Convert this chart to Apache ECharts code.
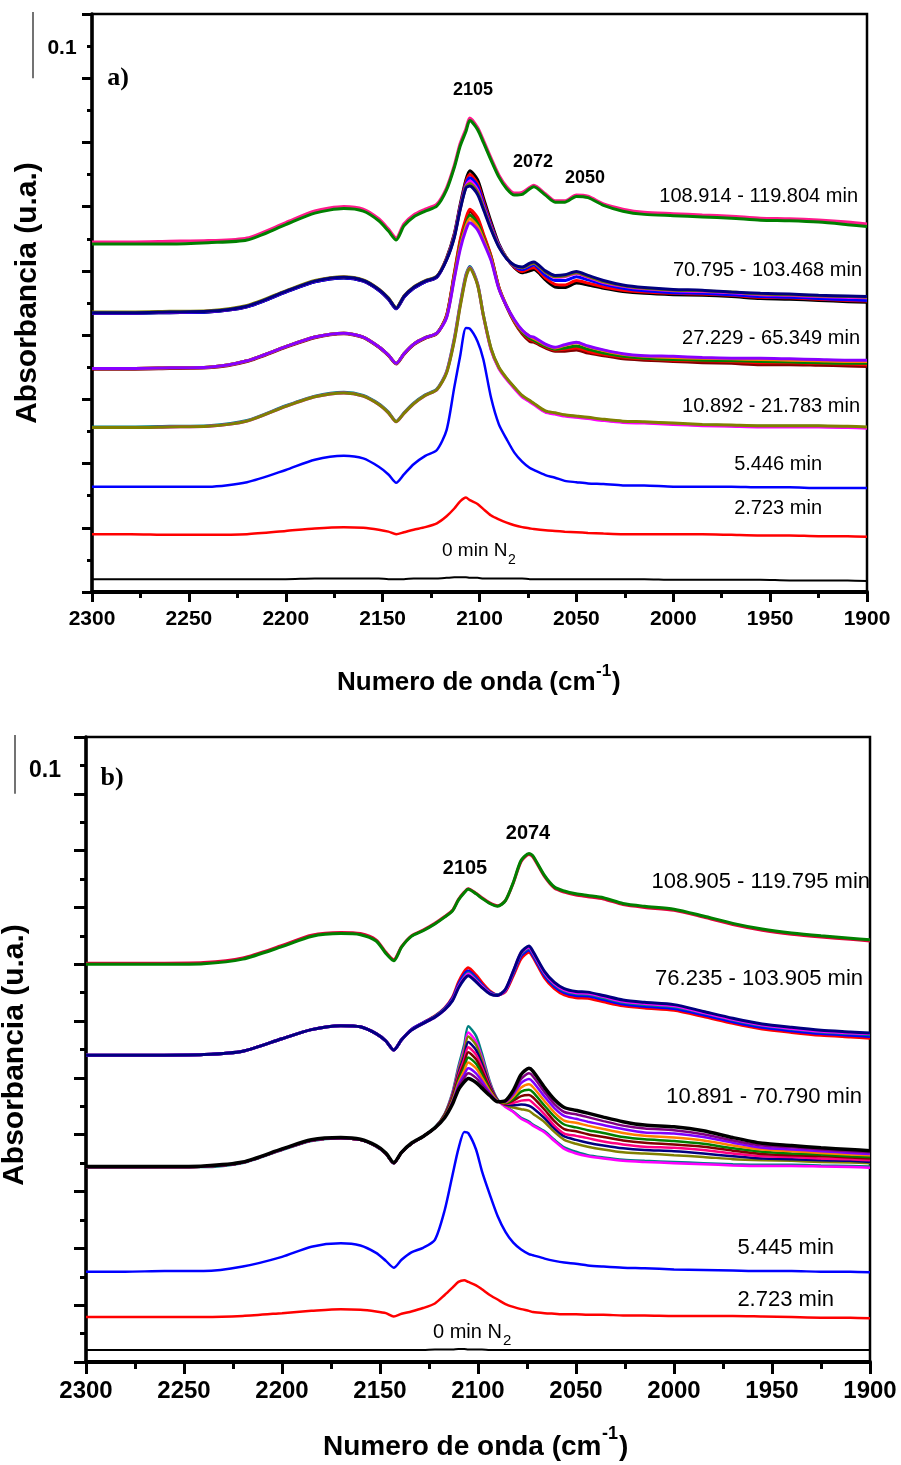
<!DOCTYPE html>
<html>
<head>
<meta charset="utf-8">
<script src="https://cdn.jsdelivr.net/npm/echarts/dist/echarts.min.js"></script>
<style>
  html, body { margin: 0; padding: 0; background: #ffffff; }
  #chart { width: 901px; height: 1465px; }
</style>
</head>
<body>
<div id="chart"></div>
<script>
// Wavenumber grid (cm-1), shared by every spectrum
const wavenumber = [2300,2280,2260,2240,2220,2200,2185,2170,2160,2152,2147,2143,2139,2134,2128,2122,2117,2113,2110,2107,2105,2101,2098,2094,2090,2086,2082,2078,2074,2072,2066,2061,2056,2050,2044,2036,2026,2015,2000,1985,1970,1955,1940,1925,1910,1900];

const xTicks = { min: 1900, max: 2300, step: 50 };

// ---------- panel a) : absorbance (offset stacked) ----------
const a_0min = [0.020,0.020,0.020,0.020,0.020,0.020,0.021,0.021,0.021,0.021,0.020,0.020,0.020,0.021,0.021,0.021,0.022,0.023,0.023,0.023,0.022,0.022,0.021,0.021,0.021,0.021,0.021,0.021,0.020,0.020,0.020,0.020,0.020,0.020,0.020,0.020,0.020,0.020,0.019,0.019,0.019,0.019,0.018,0.018,0.018,0.017];
const a_2723 = [0.090,0.090,0.089,0.089,0.090,0.095,0.099,0.101,0.100,0.097,0.094,0.090,0.093,0.097,0.101,0.107,0.118,0.130,0.141,0.147,0.143,0.137,0.129,0.119,0.113,0.108,0.104,0.101,0.099,0.098,0.096,0.095,0.094,0.093,0.092,0.091,0.090,0.090,0.090,0.090,0.089,0.088,0.088,0.087,0.087,0.086];
const a_5446 = [0.164,0.164,0.164,0.164,0.171,0.190,0.206,0.212,0.208,0.195,0.183,0.170,0.183,0.199,0.212,0.221,0.252,0.319,0.367,0.411,0.410,0.390,0.362,0.302,0.261,0.238,0.217,0.203,0.193,0.190,0.182,0.178,0.173,0.171,0.169,0.168,0.166,0.166,0.164,0.164,0.164,0.163,0.163,0.162,0.162,0.162];

// 10.892 - 21.783 min
const a_g4_teal    = [0.257,0.257,0.258,0.259,0.267,0.290,0.305,0.311,0.306,0.293,0.280,0.266,0.279,0.294,0.307,0.316,0.343,0.395,0.448,0.494,0.507,0.480,0.431,0.378,0.349,0.332,0.318,0.305,0.297,0.293,0.281,0.278,0.275,0.273,0.271,0.268,0.265,0.264,0.262,0.260,0.259,0.258,0.258,0.258,0.257,0.256];
const a_g4_magenta = [0.256,0.256,0.257,0.258,0.266,0.289,0.304,0.310,0.305,0.292,0.279,0.265,0.278,0.293,0.306,0.315,0.342,0.393,0.446,0.492,0.505,0.479,0.430,0.377,0.348,0.331,0.317,0.304,0.296,0.292,0.280,0.277,0.274,0.272,0.270,0.267,0.264,0.263,0.261,0.259,0.258,0.257,0.257,0.257,0.256,0.255];
const a_g4_olive   = [0.256,0.256,0.257,0.258,0.266,0.289,0.304,0.310,0.305,0.292,0.279,0.265,0.278,0.293,0.306,0.315,0.341,0.391,0.444,0.490,0.504,0.478,0.431,0.379,0.350,0.333,0.319,0.306,0.298,0.294,0.282,0.279,0.276,0.274,0.272,0.269,0.266,0.265,0.263,0.261,0.260,0.259,0.259,0.259,0.258,0.257];

// 27.229 - 65.349 min
const a_g3_darkred = [0.347,0.347,0.348,0.349,0.359,0.381,0.396,0.402,0.396,0.381,0.368,0.355,0.370,0.385,0.395,0.402,0.430,0.495,0.545,0.578,0.593,0.580,0.556,0.522,0.474,0.444,0.420,0.402,0.390,0.389,0.380,0.375,0.375,0.377,0.372,0.368,0.363,0.361,0.359,0.357,0.356,0.354,0.354,0.353,0.352,0.351];
const a_g3_red     = [0.348,0.348,0.349,0.350,0.360,0.382,0.397,0.403,0.397,0.382,0.369,0.356,0.371,0.386,0.396,0.403,0.431,0.497,0.548,0.582,0.596,0.583,0.558,0.523,0.475,0.445,0.421,0.404,0.393,0.391,0.382,0.377,0.378,0.380,0.375,0.370,0.366,0.363,0.361,0.360,0.359,0.357,0.357,0.356,0.355,0.354];
const a_g3_green   = [0.348,0.348,0.349,0.350,0.360,0.382,0.397,0.403,0.397,0.382,0.369,0.356,0.371,0.386,0.396,0.403,0.429,0.493,0.541,0.573,0.587,0.574,0.552,0.520,0.474,0.445,0.422,0.405,0.395,0.392,0.383,0.378,0.380,0.383,0.378,0.372,0.367,0.364,0.362,0.361,0.360,0.359,0.358,0.357,0.356,0.356];
const a_g3_orange  = [0.348,0.348,0.349,0.350,0.360,0.382,0.397,0.403,0.397,0.382,0.369,0.356,0.371,0.386,0.396,0.403,0.428,0.490,0.537,0.569,0.581,0.569,0.549,0.518,0.473,0.445,0.423,0.407,0.398,0.395,0.385,0.380,0.384,0.388,0.382,0.376,0.370,0.367,0.365,0.364,0.363,0.362,0.361,0.360,0.359,0.359];
const a_g3_violet  = [0.348,0.348,0.349,0.350,0.360,0.382,0.397,0.403,0.397,0.382,0.369,0.356,0.371,0.386,0.396,0.403,0.427,0.488,0.533,0.564,0.575,0.564,0.545,0.516,0.472,0.445,0.424,0.408,0.398,0.397,0.386,0.381,0.385,0.389,0.383,0.377,0.371,0.368,0.367,0.365,0.364,0.364,0.363,0.362,0.361,0.361];

// 70.795 - 103.468 min
const a_g2_black   = [0.434,0.434,0.435,0.436,0.444,0.467,0.483,0.489,0.484,0.470,0.456,0.441,0.459,0.473,0.483,0.490,0.520,0.558,0.603,0.642,0.656,0.642,0.614,0.576,0.542,0.520,0.505,0.497,0.500,0.502,0.486,0.475,0.474,0.481,0.478,0.473,0.468,0.465,0.463,0.462,0.460,0.457,0.456,0.454,0.452,0.451];
const a_g2_red     = [0.435,0.435,0.436,0.437,0.445,0.468,0.484,0.490,0.485,0.471,0.457,0.442,0.460,0.474,0.484,0.491,0.519,0.556,0.600,0.638,0.650,0.636,0.609,0.572,0.540,0.520,0.506,0.499,0.504,0.505,0.489,0.479,0.478,0.485,0.481,0.475,0.470,0.467,0.465,0.464,0.462,0.459,0.458,0.456,0.454,0.453];
const a_g2_blue    = [0.434,0.434,0.435,0.436,0.444,0.467,0.483,0.489,0.484,0.470,0.456,0.441,0.459,0.473,0.483,0.490,0.518,0.555,0.599,0.635,0.645,0.632,0.605,0.570,0.540,0.520,0.507,0.502,0.507,0.509,0.493,0.485,0.485,0.491,0.486,0.479,0.473,0.469,0.466,0.465,0.463,0.460,0.459,0.457,0.455,0.454];
const a_g2_magenta = [0.435,0.435,0.436,0.437,0.445,0.468,0.484,0.490,0.485,0.471,0.457,0.442,0.460,0.474,0.484,0.491,0.518,0.554,0.597,0.632,0.640,0.626,0.601,0.567,0.539,0.520,0.508,0.505,0.510,0.512,0.498,0.490,0.491,0.496,0.490,0.482,0.476,0.472,0.469,0.468,0.466,0.463,0.462,0.460,0.459,0.458];
const a_g2_olive   = [0.436,0.436,0.437,0.438,0.446,0.469,0.485,0.491,0.486,0.472,0.458,0.443,0.461,0.475,0.485,0.492,0.518,0.553,0.596,0.631,0.636,0.623,0.599,0.566,0.538,0.520,0.508,0.505,0.510,0.512,0.498,0.491,0.492,0.497,0.491,0.483,0.477,0.473,0.470,0.469,0.467,0.464,0.463,0.461,0.460,0.459];
const a_g2_navy    = [0.435,0.435,0.436,0.437,0.445,0.468,0.484,0.490,0.485,0.471,0.457,0.442,0.460,0.474,0.484,0.491,0.517,0.552,0.595,0.629,0.632,0.619,0.596,0.564,0.537,0.519,0.509,0.506,0.512,0.514,0.500,0.493,0.494,0.499,0.493,0.485,0.478,0.474,0.471,0.470,0.467,0.465,0.464,0.462,0.461,0.460];

// 108.914 - 119.804 min
const a_g1_pink  = [0.545,0.545,0.546,0.547,0.551,0.575,0.593,0.600,0.596,0.581,0.565,0.551,0.573,0.587,0.596,0.604,0.629,0.664,0.698,0.721,0.738,0.723,0.703,0.675,0.649,0.631,0.621,0.622,0.630,0.633,0.620,0.609,0.609,0.618,0.616,0.604,0.596,0.591,0.589,0.587,0.585,0.582,0.581,0.579,0.576,0.573];
const a_g1_green = [0.542,0.542,0.542,0.544,0.548,0.572,0.590,0.597,0.593,0.578,0.562,0.548,0.570,0.584,0.593,0.601,0.626,0.661,0.694,0.717,0.734,0.720,0.700,0.672,0.646,0.628,0.618,0.619,0.628,0.631,0.618,0.607,0.607,0.616,0.614,0.602,0.593,0.588,0.586,0.584,0.582,0.579,0.578,0.576,0.572,0.569];

// ---------- panel b) ----------
const b_0min = [0.021,0.021,0.021,0.021,0.021,0.021,0.021,0.021,0.021,0.021,0.021,0.021,0.021,0.021,0.021,0.022,0.022,0.022,0.023,0.023,0.022,0.022,0.022,0.021,0.021,0.021,0.021,0.021,0.021,0.021,0.021,0.021,0.021,0.021,0.021,0.021,0.021,0.021,0.021,0.021,0.021,0.021,0.021,0.021,0.021,0.021];
const b_2723 = [0.079,0.079,0.079,0.079,0.081,0.086,0.090,0.093,0.092,0.089,0.086,0.080,0.085,0.089,0.095,0.103,0.118,0.131,0.141,0.144,0.141,0.135,0.128,0.118,0.110,0.102,0.097,0.093,0.090,0.088,0.086,0.085,0.084,0.084,0.083,0.083,0.082,0.082,0.081,0.081,0.081,0.080,0.079,0.078,0.078,0.077];
const b_5445 = [0.159,0.159,0.160,0.160,0.168,0.185,0.203,0.209,0.205,0.192,0.178,0.166,0.180,0.193,0.201,0.215,0.267,0.329,0.375,0.405,0.403,0.374,0.336,0.295,0.257,0.229,0.210,0.198,0.190,0.188,0.182,0.178,0.175,0.173,0.170,0.168,0.166,0.165,0.163,0.162,0.161,0.160,0.160,0.159,0.159,0.158];

// 10.891 - 70.790 min
const b_g3_teal    = [0.342,0.342,0.343,0.343,0.350,0.373,0.389,0.394,0.391,0.379,0.366,0.349,0.369,0.384,0.397,0.413,0.437,0.475,0.520,0.559,0.591,0.574,0.543,0.494,0.462,0.450,0.441,0.430,0.423,0.418,0.406,0.391,0.378,0.370,0.364,0.360,0.356,0.354,0.352,0.350,0.348,0.347,0.347,0.346,0.345,0.344];
const b_g3_magenta = [0.343,0.343,0.343,0.344,0.351,0.374,0.390,0.394,0.391,0.380,0.367,0.350,0.369,0.384,0.397,0.412,0.436,0.473,0.515,0.551,0.580,0.564,0.536,0.491,0.461,0.449,0.440,0.428,0.421,0.416,0.404,0.389,0.375,0.367,0.362,0.358,0.354,0.352,0.350,0.348,0.346,0.345,0.345,0.344,0.343,0.342];
const b_g3_olive   = [0.343,0.343,0.343,0.344,0.351,0.374,0.390,0.394,0.391,0.380,0.367,0.350,0.369,0.384,0.397,0.412,0.436,0.471,0.512,0.546,0.573,0.558,0.531,0.489,0.461,0.452,0.448,0.445,0.442,0.437,0.422,0.405,0.391,0.384,0.379,0.374,0.369,0.367,0.364,0.361,0.357,0.355,0.354,0.352,0.351,0.350];
const b_g3_navy    = [0.343,0.343,0.343,0.344,0.351,0.374,0.390,0.394,0.391,0.380,0.367,0.350,0.369,0.384,0.397,0.412,0.435,0.469,0.508,0.539,0.563,0.549,0.525,0.487,0.461,0.453,0.452,0.453,0.451,0.447,0.429,0.411,0.397,0.391,0.386,0.381,0.376,0.373,0.371,0.367,0.362,0.358,0.357,0.355,0.354,0.352];
const b_g3_pink    = [0.343,0.343,0.343,0.344,0.351,0.374,0.390,0.394,0.391,0.380,0.367,0.350,0.369,0.384,0.397,0.412,0.434,0.467,0.504,0.533,0.554,0.541,0.519,0.484,0.460,0.454,0.456,0.460,0.461,0.456,0.436,0.416,0.402,0.398,0.394,0.388,0.383,0.379,0.377,0.373,0.367,0.362,0.361,0.358,0.357,0.355];
const b_g3_darkred = [0.343,0.343,0.343,0.344,0.351,0.374,0.390,0.394,0.391,0.380,0.367,0.350,0.369,0.384,0.397,0.412,0.434,0.465,0.500,0.526,0.545,0.533,0.513,0.482,0.460,0.455,0.460,0.468,0.470,0.466,0.444,0.424,0.410,0.406,0.401,0.396,0.390,0.386,0.383,0.379,0.372,0.366,0.364,0.362,0.360,0.358];
const b_g3_green   = [0.343,0.343,0.343,0.344,0.351,0.374,0.390,0.394,0.391,0.380,0.367,0.350,0.369,0.384,0.397,0.412,0.433,0.462,0.495,0.519,0.536,0.525,0.506,0.479,0.460,0.456,0.463,0.476,0.479,0.475,0.451,0.432,0.418,0.413,0.408,0.403,0.396,0.392,0.389,0.384,0.376,0.370,0.367,0.365,0.362,0.361];
const b_g3_orange  = [0.343,0.343,0.343,0.344,0.351,0.374,0.390,0.394,0.391,0.380,0.367,0.350,0.369,0.384,0.397,0.412,0.432,0.460,0.491,0.513,0.527,0.517,0.500,0.477,0.459,0.457,0.467,0.483,0.489,0.484,0.459,0.439,0.425,0.421,0.416,0.410,0.403,0.398,0.395,0.390,0.381,0.374,0.371,0.368,0.365,0.364];
const b_g3_violet  = [0.343,0.343,0.343,0.344,0.351,0.374,0.390,0.394,0.391,0.380,0.367,0.350,0.369,0.384,0.397,0.412,0.431,0.458,0.487,0.506,0.517,0.508,0.494,0.474,0.459,0.458,0.471,0.491,0.498,0.493,0.467,0.447,0.433,0.428,0.423,0.417,0.410,0.404,0.402,0.396,0.386,0.377,0.374,0.371,0.368,0.366];
const b_g3_purple  = [0.343,0.343,0.343,0.344,0.351,0.374,0.390,0.394,0.391,0.380,0.367,0.350,0.369,0.384,0.397,0.412,0.431,0.456,0.483,0.500,0.508,0.500,0.488,0.472,0.458,0.459,0.474,0.498,0.508,0.503,0.475,0.454,0.440,0.436,0.431,0.424,0.416,0.411,0.408,0.401,0.390,0.381,0.378,0.374,0.371,0.369];
const b_g3_black   = [0.344,0.344,0.344,0.345,0.352,0.375,0.391,0.395,0.392,0.381,0.368,0.351,0.369,0.385,0.397,0.412,0.430,0.454,0.479,0.493,0.499,0.492,0.482,0.469,0.458,0.460,0.478,0.506,0.517,0.512,0.483,0.462,0.448,0.443,0.438,0.431,0.423,0.417,0.414,0.407,0.395,0.385,0.381,0.377,0.374,0.372];

// 76.235 - 103.905 min
const b_g2_red     = [0.540,0.540,0.540,0.541,0.547,0.569,0.585,0.592,0.590,0.578,0.565,0.549,0.567,0.585,0.597,0.609,0.623,0.642,0.668,0.687,0.694,0.681,0.668,0.653,0.646,0.652,0.680,0.710,0.721,0.713,0.676,0.657,0.646,0.641,0.640,0.634,0.627,0.623,0.619,0.608,0.596,0.586,0.580,0.575,0.572,0.570];
const b_g2_blue    = [0.540,0.540,0.540,0.541,0.547,0.569,0.585,0.592,0.590,0.578,0.565,0.549,0.567,0.585,0.597,0.608,0.622,0.640,0.664,0.682,0.688,0.676,0.664,0.651,0.646,0.654,0.684,0.715,0.725,0.716,0.680,0.661,0.650,0.645,0.644,0.638,0.630,0.626,0.622,0.611,0.599,0.589,0.583,0.578,0.575,0.573];
const b_g2_teal    = [0.540,0.540,0.540,0.541,0.547,0.569,0.585,0.592,0.590,0.578,0.565,0.549,0.567,0.584,0.596,0.608,0.621,0.638,0.661,0.678,0.685,0.673,0.662,0.650,0.646,0.655,0.686,0.718,0.728,0.719,0.683,0.664,0.653,0.648,0.647,0.641,0.633,0.629,0.625,0.614,0.602,0.592,0.586,0.581,0.578,0.576];
const b_g2_magenta = [0.540,0.540,0.540,0.541,0.547,0.569,0.585,0.592,0.590,0.578,0.565,0.549,0.567,0.584,0.596,0.607,0.620,0.637,0.660,0.676,0.683,0.671,0.661,0.649,0.645,0.655,0.687,0.720,0.730,0.721,0.685,0.666,0.655,0.650,0.649,0.643,0.635,0.631,0.627,0.615,0.603,0.593,0.587,0.582,0.579,0.578];
const b_g2_navy    = [0.540,0.540,0.540,0.541,0.547,0.569,0.585,0.592,0.590,0.578,0.565,0.549,0.567,0.584,0.596,0.607,0.620,0.636,0.658,0.674,0.680,0.669,0.659,0.648,0.645,0.656,0.688,0.721,0.732,0.723,0.687,0.668,0.657,0.652,0.651,0.645,0.637,0.633,0.629,0.617,0.605,0.595,0.589,0.584,0.581,0.579];

// 108.905 - 119.795 min
const b_g1_red   = [0.702,0.702,0.702,0.703,0.711,0.733,0.751,0.756,0.754,0.743,0.721,0.708,0.731,0.750,0.760,0.772,0.784,0.795,0.814,0.827,0.833,0.825,0.817,0.808,0.803,0.812,0.843,0.881,0.893,0.889,0.854,0.834,0.827,0.822,0.819,0.815,0.805,0.800,0.795,0.783,0.770,0.760,0.753,0.748,0.744,0.741];
const b_g1_green = [0.700,0.700,0.700,0.701,0.709,0.731,0.749,0.754,0.752,0.741,0.719,0.706,0.730,0.749,0.759,0.771,0.783,0.794,0.813,0.826,0.832,0.824,0.816,0.807,0.802,0.812,0.844,0.883,0.895,0.891,0.856,0.836,0.829,0.824,0.821,0.817,0.807,0.802,0.797,0.785,0.772,0.762,0.755,0.750,0.746,0.743];

// ---------- drawing ----------
const SANS = "'Liberation Sans', Arial, Helvetica, sans-serif";
const SERIF = "'Liberation Serif', 'Times New Roman', serif";

const panels = [
  { grid: { left: 92, top: 14, width: 775, height: 578 }, yMax: 0.9, tickFont: 21, majorLen: 10, minorLen: 5 },
  { grid: { left: 86, top: 737, width: 784, height: 625 }, yMax: 1.1, tickFont: 24, majorLen: 12, minorLen: 6 }
];

const traces = [
  // panel a
  [0, a_0min, '#000000', 2],
  [0, a_2723, '#ff0000', 2.5],
  [0, a_5446, '#0000ff', 2.5],
  [0, a_g4_teal, '#008080', 3], [0, a_g4_magenta, '#ff00ff', 3], [0, a_g4_olive, '#808000', 3],
  [0, a_g3_darkred, '#800000', 3], [0, a_g3_red, '#ff0000', 3], [0, a_g3_green, '#008000', 3],
  [0, a_g3_orange, '#ff8000', 3], [0, a_g3_violet, '#8800ff', 3],
  [0, a_g2_black, '#000000', 3], [0, a_g2_red, '#ff0000', 3], [0, a_g2_blue, '#0000ff', 3],
  [0, a_g2_magenta, '#ff00ff', 3], [0, a_g2_olive, '#808000', 3], [0, a_g2_navy, '#000080', 3],
  [0, a_g1_pink, '#ff1a8c', 3.2], [0, a_g1_green, '#008000', 3],
  // panel b
  [1, b_0min, '#000000', 2],
  [1, b_2723, '#ff0000', 2.5],
  [1, b_5445, '#0000ff', 2.5],
  [1, b_g3_teal, '#008080', 2.5], [1, b_g3_magenta, '#ff00ff', 2.5], [1, b_g3_olive, '#808000', 2.5],
  [1, b_g3_navy, '#000080', 2.5], [1, b_g3_pink, '#ff0080', 2.5], [1, b_g3_darkred, '#800000', 2.5],
  [1, b_g3_green, '#008000', 2.5], [1, b_g3_orange, '#ff8000', 2.5], [1, b_g3_violet, '#8000ff', 2.5],
  [1, b_g3_purple, '#800080', 2.5], [1, b_g3_black, '#000000', 3.5],
  [1, b_g2_red, '#ff0000', 3], [1, b_g2_blue, '#0000ff', 3], [1, b_g2_teal, '#008080', 3],
  [1, b_g2_magenta, '#ff00ff', 3], [1, b_g2_navy, '#000080', 3],
  [1, b_g1_red, '#e0003c', 3], [1, b_g1_green, '#008000', 3]
];

const grids = panels.map(p => Object.assign({ show: true, borderColor: '#000', borderWidth: 2.5, backgroundColor: 'transparent', containLabel: false }, p.grid));

const xAxes = [];
const yAxes = [];
panels.forEach((p, i) => {
  xAxes.push({
    gridIndex: i, type: 'value', position: 'bottom', inverse: true,
    min: xTicks.min, max: xTicks.max, interval: xTicks.step,
    axisLine: { show: true, onZero: false, lineStyle: { color: '#000', width: 4 } },
    axisTick: { show: true, inside: false, length: p.majorLen, lineStyle: { color: '#000', width: 3 } },
    minorTick: { show: true, splitNumber: 2, length: p.minorLen + 1, lineStyle: { color: '#000', width: 3 } },
    axisLabel: { show: true, margin: 17, color: '#000', fontWeight: 'bold', fontSize: p.tickFont, fontFamily: SANS,
                 formatter: v => String(v) },
    splitLine: { show: false }, minorSplitLine: { show: false }
  });
  xAxes.push({
    gridIndex: i, type: 'value', position: 'top', inverse: true,
    min: xTicks.min, max: xTicks.max, interval: xTicks.step,
    axisLine: { show: false },
    axisTick: { show: true, inside: false, length: 2, lineStyle: { color: '#000', width: 1.5 } },
    minorTick: { show: true, splitNumber: 2, length: 2, lineStyle: { color: '#000', width: 1.5 } },
    axisLabel: { show: false }, splitLine: { show: false }, minorSplitLine: { show: false }
  });
  yAxes.push({
    gridIndex: i, type: 'value', min: 0, max: p.yMax, interval: 0.1,
    axisLine: { show: true, onZero: false, lineStyle: { color: '#000', width: 3.5 } },
    axisTick: { show: true, inside: false, length: p.majorLen, lineStyle: { color: '#000', width: 3 } },
    minorTick: { show: true, splitNumber: 2, length: p.minorLen, lineStyle: { color: '#000', width: 3 } },
    axisLabel: { show: false }, splitLine: { show: false }, minorSplitLine: { show: false }
  });
});

const series = traces.map(([panel, values, color, width]) => ({
  type: 'line',
  xAxisIndex: panel * 2,
  yAxisIndex: panel,
  data: wavenumber.map((w, k) => [w, values[k]]),
  showSymbol: false, symbol: 'none',
  smooth: 0.25,
  lineStyle: { color: color, width: width },
  itemStyle: { color: color },
  emphasis: { disabled: true },
  silent: true,
  animation: false
}));

function txt(text, x, y, size, opts) {
  opts = opts || {};
  return {
    type: 'text', x: x, y: y, rotation: opts.rotation || 0, z: 100, silent: true,
    style: {
      text: text,
      font: (opts.bold ? 'bold ' : '') + size + 'px ' + (opts.family || SANS),
      fill: '#000',
      textAlign: opts.align || 'center',
      textVerticalAlign: 'middle'
    }
  };
}

const labels = [
  // panel a
  txt('a)', 118, 78, 26, { bold: true, family: SERIF }),
  txt('2105', 473, 90, 18, { bold: true }),
  txt('2072', 533, 162, 18, { bold: true }),
  txt('2050', 585, 178, 18, { bold: true }),
  txt('108.914 - 119.804 min', 858, 196, 20, { align: 'right' }),
  txt('70.795 - 103.468 min', 862, 270, 20, { align: 'right' }),
  txt('27.229 - 65.349 min', 860, 338, 20, { align: 'right' }),
  txt('10.892 - 21.783 min', 860, 406, 20, { align: 'right' }),
  txt('5.446 min', 822, 464, 20, { align: 'right' }),
  txt('2.723 min', 822, 508, 20, { align: 'right' }),
  txt('0 min N', 442, 551, 19, { align: 'left' }),
  txt('2', 508, 560, 14, { align: 'left' }),
  txt('0.1', 62, 48, 21, { bold: true }),
  txt('Numero de onda (cm', 337, 683, 26, { bold: true, align: 'left' }),
  txt('-1', 596, 671, 17, { bold: true, align: 'left' }),
  txt(')', 612, 683, 26, { bold: true, align: 'left' }),
  txt('Absorbancia (u.a.)', 28, 293, 30, { bold: true, rotation: Math.PI / 2 }),
  // panel b
  txt('b)', 112, 778, 26, { bold: true, family: SERIF }),
  txt('2105', 465, 868, 20, { bold: true }),
  txt('2074', 528, 833, 20, { bold: true }),
  txt('108.905 - 119.795 min', 870, 882, 22, { align: 'right' }),
  txt('76.235 - 103.905 min', 863, 979, 22, { align: 'right' }),
  txt('10.891 - 70.790 min', 862, 1097, 22, { align: 'right' }),
  txt('5.445 min', 834, 1248, 22, { align: 'right' }),
  txt('2.723 min', 834, 1300, 22, { align: 'right' }),
  txt('0 min N', 433, 1332, 20, { align: 'left' }),
  txt('2', 503, 1341, 15, { align: 'left' }),
  txt('0.1', 45, 771, 23, { bold: true }),
  txt('Numero de onda (cm', 323, 1447, 28, { bold: true, align: 'left' }),
  txt('-1', 602, 1434, 18, { bold: true, align: 'left' }),
  txt(')', 619, 1447, 28, { bold: true, align: 'left' }),
  txt('Absorbancia (u.a.)', 15, 1055, 30, { bold: true, rotation: Math.PI / 2 })
];

const chart = echarts.init(document.getElementById('chart'), null, { renderer: 'canvas', width: 901, height: 1465 });
chart.setOption({
  backgroundColor: '#ffffff',
  animation: false,
  grid: grids,
  xAxis: xAxes,
  yAxis: yAxes,
  series: series,
  graphic: labels
});

// 0.1 absorbance scale bars, measured down from the top of each panel
const bars = panels.map((p, i) => {
  const y0 = chart.convertToPixel({ yAxisIndex: i }, p.yMax);
  const y1 = chart.convertToPixel({ yAxisIndex: i }, p.yMax - 0.1);
  const x = i === 0 ? 33 : 15;
  return { type: 'line', silent: true, z: 100,
    shape: { x1: x, y1: y0 - 2, x2: x, y2: y1 },
    style: { stroke: '#444', lineWidth: 1.5 } };
});
chart.setOption({ graphic: labels.concat(bars) });
</script>
</body>
</html>
